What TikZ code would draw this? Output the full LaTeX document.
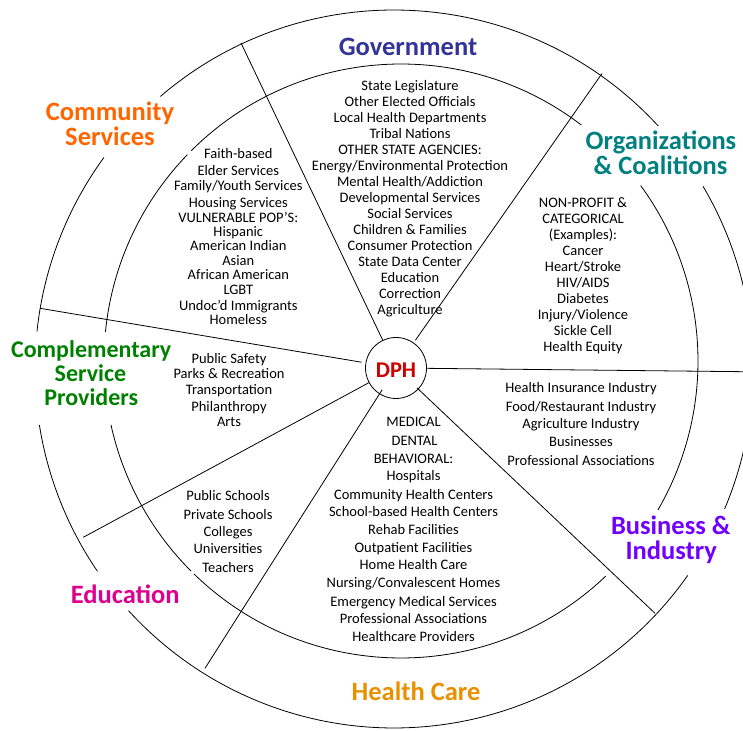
\documentclass[tikz,border=0pt]{standalone}
\usepackage{fontspec}
\setmainfont{Carlito}
\definecolor{govc}{RGB}{51,51,153}
\definecolor{commc}{RGB}{255,102,0}
\definecolor{orgc}{RGB}{0,128,128}
\definecolor{compc}{RGB}{0,128,0}
\definecolor{educ}{RGB}{222,0,140}
\definecolor{busc}{RGB}{112,0,255}
\definecolor{hcc}{RGB}{232,145,0}
\definecolor{dphc}{RGB}{204,0,0}
\tikzset{
  ring/.style={line width=0.8pt},
  spoke/.style={line width=0.8pt},
  body/.style={font=\fontsize{14.5}{16}\selectfont, text height=9.3pt, text depth=0pt, inner sep=0pt},
  lbl/.style={font=\fontsize{26.5}{28}\selectfont\bfseries, text height=17pt, text depth=0pt, inner sep=0pt},
  lblsm/.style={font=\fontsize{24}{26}\selectfont\bfseries, text height=15.5pt, text depth=0pt, inner sep=0pt},
}
\begin{document}
\begin{tikzpicture}[x=1pt,y=1pt]
\useasboundingbox (0,0) rectangle (743,730);
\clip (0,0) rectangle (743,730);
% outer ring (center 394,361; r 359)
\draw[ring] ([shift={(394,361)}]42.6:359) arc[start angle=42.6,end angle=130.6,radius=359];
\draw[ring] ([shift={(394,361)}]143.9:359) arc[start angle=143.9,end angle=174.0,radius=359];
\draw[ring] ([shift={(394,361)}]189.0:359) arc[start angle=189.0,end angle=214.3,radius=359];
\draw[ring] ([shift={(394,361)}]222.3:359) arc[start angle=222.3,end angle=324.9,radius=359];
\draw[ring] ([shift={(394,361)}]337.05:359) arc[start angle=337.05,end angle=390.6,radius=359];
% inner ring (center 401,369; r 297)
\draw[ring] ([shift={(401,369)}]52.6:297) arc[start angle=52.6,end angle=134.9,radius=297];
\draw[ring] ([shift={(401,369)}]136.0:297) arc[start angle=136.0,end angle=174.4,radius=297];
\draw[ring] ([shift={(401,369)}]192.4:297) arc[start angle=192.4,end angle=225.0,radius=297];
\draw[ring] ([shift={(401,369)}]225.8:297) arc[start angle=225.8,end angle=313.6,radius=297];
\draw[ring] ([shift={(401,369)}]329.9:297) arc[start angle=329.9,end angle=396.2,radius=297];
% centre
\node[circle, draw, line width=0.8pt, minimum size=61pt, inner sep=0pt] (dph) at (396,362) {};
\node[font=\fontsize{22.5}{24}\selectfont\bfseries, text=dphc, text height=14.5pt, text depth=0pt, inner sep=0pt] (dphtext) at (396,359.7) {DPH};
% spoke ends
\coordinate (e1) at (241,687);
\coordinate (e2) at (602,656.5);
\coordinate (e3) at (40,421.7);
\coordinate (e4) at (743,358.3);
\coordinate (e5) at (83.3,192.7);
\coordinate (e6) at (205,61.7);
\coordinate (e7) at (655,116.7);
\draw[spoke] (dph) -- (e1);
\draw[spoke, shorten <=3pt] (dph) -- (e2);
\draw[spoke, shorten <=4pt] (dph) -- (e3);
\draw[spoke] (dph) -- (e4);
\draw[spoke] (dph) -- (e5);
\draw[spoke, shorten <=-5pt] (dph) -- (e6);
\draw[spoke, shorten <=-2pt] (dph) -- (e7);
% sector labels
\node[lbl, text=govc] (lgov) at (408,683) {Government};
\node[lbl, text=commc] (lcom1) at (110,617.8) {Community};
\node[lbl, text=commc] (lcom2) at (110,593) {Services};
\node[lbl, text=orgc] (lorg1) at (661,588.8) {Organizations};
\node[lbl, text=orgc] (lorg2) at (660.5,564) {\& Coalitions};
\node[lblsm, text=compc] (lcmp1) at (91.2,380.5) {Complementary};
\node[lblsm, text=compc] (lcmp2) at (90.5,356) {Service};
\node[lblsm, text=compc] (lcmp3) at (91.3,332) {Providers};
\node[lbl, text=educ] (ledu) at (125.2,135) {Education};
\node[lbl, text=busc] (lbus1) at (670.8,204.2) {Business \&};
\node[lbl, text=busc] (lbus2) at (671.2,179.4) {Industry};
\node[lbl, text=hcc] (lhc) at (416,38.3) {Health Care};
% Government list
\node[body] (g1) at (410,644) {State Legislature};
\node[body] (g2) at (410,628) {Other Elected Officials};
\node[body] (g3) at (410,612) {Local Health Departments};
\node[body] (g4) at (410,596) {Tribal Nations};
\node[body] (g5) at (410,580) {OTHER STATE AGENCIES:};
\node[body] (g6) at (410,564) {Energy/Environmental Protection};
\node[body] (g7) at (410,548) {Mental Health/Addiction};
\node[body] (g8) at (410,532) {Developmental Services};
\node[body] (g9) at (410,516) {Social Services};
\node[body] (g10) at (410,500) {Children \& Families};
\node[body] (g11) at (410,484) {Consumer Protection};
\node[body] (g12) at (410,468) {State Data Center};
\node[body] (g13) at (410,452) {Education};
\node[body] (g14) at (410,436) {Correction};
\node[body] (g15) at (410,420) {Agriculture};
% Community list
\node[body] (c1) at (238.3,575.7) {Faith-based};
\node[body] (c2) at (238.3,559.6) {Elder Services};
\node[body] (c3) at (238.3,543.8) {Family/Youth Services};
\node[body] (c4) at (238.3,527.5) {Housing Services};
\node[body] (c5) at (238.3,512.6) {VULNERABLE POP’S:};
\node[body] (c6) at (238.3,498.6) {Hispanic};
\node[body] (c7) at (238.3,483.7) {American Indian};
\node[body] (c8) at (238.3,468.8) {Asian};
\node[body] (c9) at (238.3,454.9) {African American};
\node[body] (c10) at (238.3,440.0) {LGBT};
\node[body] (c11) at (238.3,424.6) {Undoc’d Immigrants};
\node[body] (c12) at (238.3,410.6) {Homeless};
% Organizations list
\node[body] (o1) at (583,527) {NON-PROFIT \&};
\node[body] (o2) at (583,511) {CATEGORICAL};
\node[body] (o3) at (583,495) {(Examples):};
\node[body] (o4) at (583,479) {Cancer};
\node[body] (o5) at (583,463) {Heart/Stroke};
\node[body] (o6) at (583,447) {HIV/AIDS};
\node[body] (o7) at (583,431) {Diabetes};
\node[body] (o8) at (583,415) {Injury/Violence};
\node[body] (o9) at (583,399) {Sickle Cell};
\node[body] (o10) at (583,383) {Health Equity};
% Complementary list
\node[body] (p1) at (229,371.5) {Public Safety};
\node[body] (p2) at (229,355.7) {Parks \& Recreation};
\node[body] (p3) at (229,339.9) {Transportation};
\node[body] (p4) at (229,323.6) {Philanthropy};
\node[body] (p5) at (229,307.7) {Arts};
% Business list
\node[body] (b1) at (581,341.7) {Health Insurance Industry};
\node[body] (b2) at (581,323.6) {Food/Restaurant Industry};
\node[body] (b3) at (581,305.9) {Agriculture Industry};
\node[body] (b4) at (581,287.7) {Businesses};
\node[body] (b5) at (581,269.6) {Professional Associations};
% Education list
\node[body] (d1) at (228,233.7) {Public Schools};
\node[body] (d2) at (228,215.6) {Private Schools};
\node[body] (d3) at (228,197.9) {Colleges};
\node[body] (d4) at (228,180.7) {Universities};
\node[body] (d5) at (228,162.5) {Teachers};
% Health care list
\node[body] (h1) at (413.5,307.7) {MEDICAL};
\node[body] (h2) at (414.5,289.6) {DENTAL};
\node[body] (h3) at (413.5,271.4) {BEHAVIORAL:};
\node[body] (h4) at (413.5,253.7) {Hospitals};
\node[body] (h5) at (413.5,235.6) {Community Health Centers};
\node[body] (h6) at (413.5,217.9) {School-based Health Centers};
\node[body] (h7) at (413.5,199.7) {Rehab Facilities};
\node[body] (h8) at (413.5,182.5) {Outpatient Facilities};
\node[body] (h9) at (413.5,164.8) {Home Health Care};
\node[body] (h10) at (413.5,146.7) {Nursing/Convalescent Homes};
\node[body] (h11) at (413.5,128.5) {Emergency Medical Services};
\node[body] (h12) at (413.5,110.8) {Professional Associations};
\node[body] (h13) at (413.5,93.1) {Healthcare Providers};
\end{tikzpicture}
\end{document}
